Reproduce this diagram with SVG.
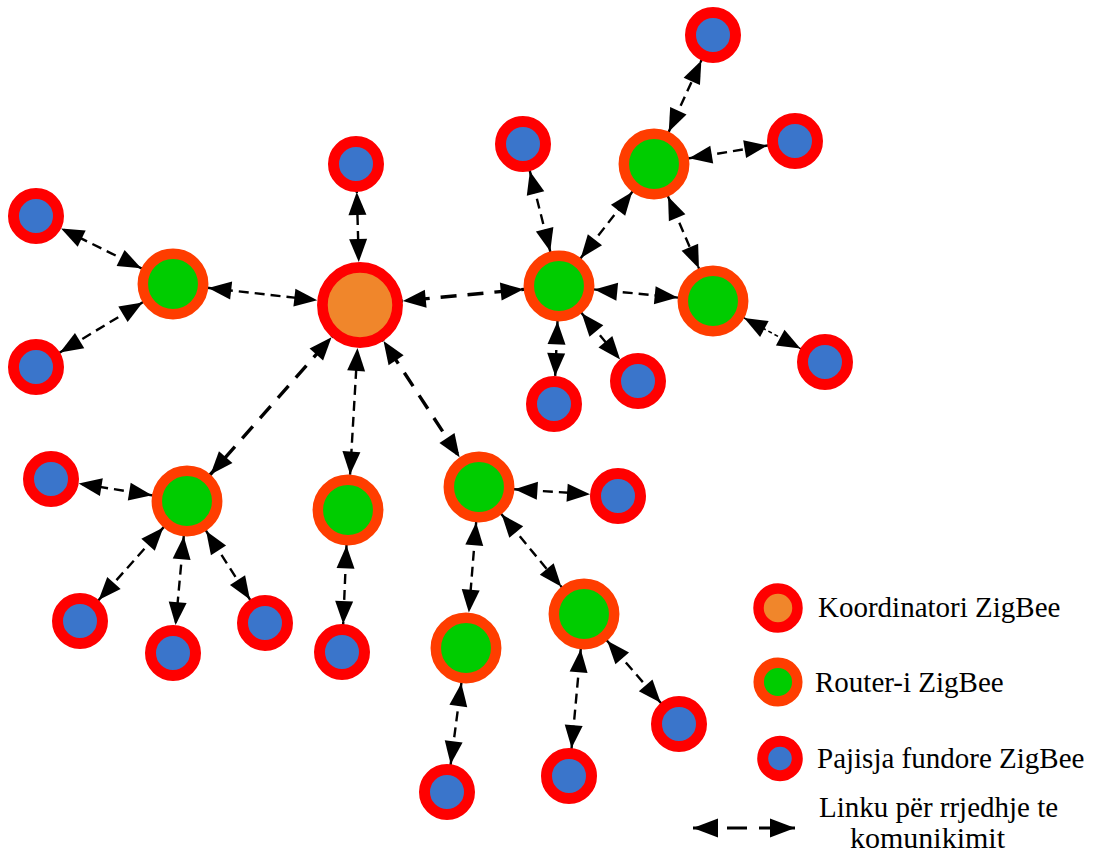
<svg xmlns="http://www.w3.org/2000/svg" width="1094" height="856" viewBox="0 0 1094 856">
<style>
.end{fill:#3A75CB;stroke:#FF0000;stroke-width:11}
.rt{fill:#00CC00;stroke:#FF3D00;stroke-width:10.5}
.co{fill:#F0862B;stroke:#FF0000;stroke-width:10.7}
.ln{fill:none;stroke:#000;stroke-width:2.4;stroke-dasharray:10 6}
.thk{fill:none;stroke:#000;stroke-width:3.4;stroke-dasharray:16 11}
.dot{fill:none;stroke:#000;stroke-width:1.6;stroke-dasharray:4 3}
.e-e{marker-start:url(#m28);marker-end:url(#m28)}
.r-e{marker-start:url(#m35);marker-end:url(#m28)}
.r-r{marker-start:url(#m35);marker-end:url(#m35)}
.c-r{marker-start:url(#m43);marker-end:url(#m35)}
.c-e{marker-start:url(#m43);marker-end:url(#m28)}
text{font-family:"Liberation Serif","Times New Roman",serif;font-size:29px;fill:#000}
</style>
<defs>
<marker id="m28" markerUnits="userSpaceOnUse" orient="auto-start-reverse" refX="28" refY="0" markerWidth="1" markerHeight="1" overflow="visible"><path d="M0,0 L-23,-9 L-23,9 Z" fill="#000"/></marker>
<marker id="m35" markerUnits="userSpaceOnUse" orient="auto-start-reverse" refX="35.5" refY="0" markerWidth="1" markerHeight="1" overflow="visible"><path d="M0,0 L-23,-9 L-23,9 Z" fill="#000"/></marker>
<marker id="m43" markerUnits="userSpaceOnUse" orient="auto-start-reverse" refX="43" refY="0" markerWidth="1" markerHeight="1" overflow="visible"><path d="M0,0 L-23,-9 L-23,9 Z" fill="#000"/></marker>
<marker id="mleg" markerUnits="userSpaceOnUse" orient="auto-start-reverse" refX="0" refY="0" markerWidth="1" markerHeight="1" overflow="visible"><path d="M0,0 L-25,-9.5 L-25,9.5 Z" fill="#000"/></marker>
</defs>
<g id="connectors">
<line class="ln c-e" x1="360" y1="305" x2="356" y2="164"/>
<line class="ln c-r" x1="360" y1="305" x2="173" y2="284"/>
<line class="ln c-r" x1="360" y1="305" x2="348" y2="510"/>
<line class="thk c-r" x1="360" y1="305" x2="187" y2="501"/>
<line class="thk c-r" x1="360" y1="305" x2="479" y2="487"/>
<line class="thk c-r" x1="360" y1="305" x2="559" y2="286"/>
<line class="ln r-e" x1="173" y1="284" x2="36" y2="216"/>
<line class="ln r-e" x1="173" y1="284" x2="36" y2="367"/>
<line class="ln r-e" x1="187" y1="501" x2="51" y2="479"/>
<line class="ln r-e" x1="187" y1="501" x2="80" y2="621"/>
<line class="ln r-e" x1="187" y1="501" x2="173" y2="653"/>
<line class="ln r-e" x1="187" y1="501" x2="265" y2="623"/>
<line class="ln r-e" x1="348" y1="510" x2="342" y2="652"/>
<line class="ln r-e" x1="479" y1="487" x2="618" y2="496"/>
<line class="ln r-r" x1="479" y1="487" x2="466" y2="648"/>
<line class="ln r-r" x1="479" y1="487" x2="584" y2="614"/>
<line class="ln r-e" x1="466" y1="648" x2="447" y2="792"/>
<line class="ln r-e" x1="584" y1="614" x2="569" y2="776"/>
<line class="ln r-e" x1="584" y1="614" x2="679" y2="724"/>
<line class="ln r-e" x1="559" y1="286" x2="523" y2="144"/>
<line class="ln r-e" x1="559" y1="286" x2="554" y2="404"/>
<line class="ln r-e" x1="559" y1="286" x2="638" y2="381"/>
<line class="ln r-r" x1="559" y1="286" x2="713" y2="301"/>
<line class="ln r-r" x1="559" y1="286" x2="654" y2="164"/>
<line class="ln r-e" x1="654" y1="164" x2="713" y2="35"/>
<line class="ln r-e" x1="654" y1="164" x2="795" y2="141"/>
<line class="ln r-r" x1="654" y1="164" x2="713" y2="301"/>
<line class="dot r-e" x1="713" y1="301" x2="825" y2="362"/>
</g>
<g id="coordinator"><circle class="co" cx="360" cy="305" r="37.6"/></g>
<g id="router-1"><circle class="rt" cx="173" cy="284" r="30.2"/></g>
<g id="router-2"><circle class="rt" cx="187" cy="501" r="30.2"/></g>
<g id="router-3"><circle class="rt" cx="348" cy="510" r="30.2"/></g>
<g id="router-4"><circle class="rt" cx="479" cy="487" r="30.2"/></g>
<g id="router-5"><circle class="rt" cx="466" cy="648" r="30.2"/></g>
<g id="router-6"><circle class="rt" cx="584" cy="614" r="30.2"/></g>
<g id="router-7"><circle class="rt" cx="559" cy="286" r="30.2"/></g>
<g id="router-8"><circle class="rt" cx="654" cy="164" r="30.2"/></g>
<g id="router-9"><circle class="rt" cx="713" cy="301" r="30.2"/></g>
<g id="end-1"><circle class="end" cx="356" cy="164" r="22.5"/></g>
<g id="end-2"><circle class="end" cx="36" cy="216" r="22.5"/></g>
<g id="end-3"><circle class="end" cx="36" cy="367" r="22.5"/></g>
<g id="end-4"><circle class="end" cx="51" cy="479" r="22.5"/></g>
<g id="end-5"><circle class="end" cx="80" cy="621" r="22.5"/></g>
<g id="end-6"><circle class="end" cx="173" cy="653" r="22.5"/></g>
<g id="end-7"><circle class="end" cx="265" cy="623" r="22.5"/></g>
<g id="end-8"><circle class="end" cx="342" cy="652" r="22.5"/></g>
<g id="end-9"><circle class="end" cx="618" cy="496" r="22.5"/></g>
<g id="end-10"><circle class="end" cx="447" cy="792" r="22.5"/></g>
<g id="end-11"><circle class="end" cx="569" cy="776" r="22.5"/></g>
<g id="end-12"><circle class="end" cx="679" cy="724" r="22.5"/></g>
<g id="end-13"><circle class="end" cx="523" cy="144" r="22.5"/></g>
<g id="end-14"><circle class="end" cx="713" cy="35" r="22.5"/></g>
<g id="end-15"><circle class="end" cx="795" cy="141" r="22.5"/></g>
<g id="end-16"><circle class="end" cx="825" cy="362" r="22.5"/></g>
<g id="end-17"><circle class="end" cx="554" cy="404" r="22.5"/></g>
<g id="end-18"><circle class="end" cx="638" cy="381" r="22.5"/></g>
<g id="legend">
<circle cx="778" cy="608" r="19.5" fill="#F0862B" stroke="#FF0000" stroke-width="10.5"/>
<text x="818" y="617">Koordinatori ZigBee</text>
<circle cx="778" cy="682" r="19.3" fill="#00CC00" stroke="#FF3D00" stroke-width="10.5"/>
<text x="815" y="692">Router-i ZigBee</text>
<circle cx="780" cy="758.5" r="17.3" fill="#3A75CB" stroke="#FF0000" stroke-width="11"/>
<text x="817" y="768">Pajisja fundore ZigBee</text>
<line x1="693" y1="828" x2="795" y2="828" stroke="#000" stroke-width="3.2" stroke-dasharray="24 10 20 12 36" marker-start="url(#mleg)" marker-end="url(#mleg)"/>
<text x="819" y="817">Linku për rrjedhje te</text>
<text x="850" y="848" style="font-size:30px">komunikimit</text>
</g>
</svg>
